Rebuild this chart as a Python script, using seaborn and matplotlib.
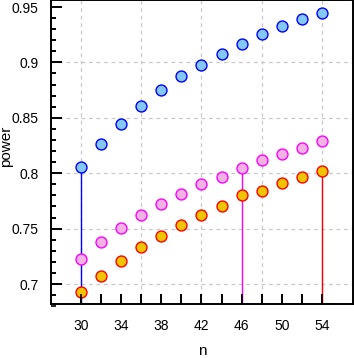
import numpy as np
import pandas as pd
import matplotlib
matplotlib.use("Agg")
import matplotlib.pyplot as plt
import seaborn as sns
from matplotlib.ticker import FixedLocator, MultipleLocator

# ------------------ DATOS ------------------
n = [30, 32, 34, 36, 38, 40, 42, 44, 46, 48, 50, 52, 54]
power_blue = [0.806, 0.826, 0.844, 0.861, 0.875, 0.888, 0.898, 0.908, 0.917, 0.926, 0.933, 0.939, 0.945]
power_pink = [0.723, 0.738, 0.751, 0.762, 0.772, 0.781, 0.790, 0.797, 0.805, 0.812, 0.817, 0.823, 0.829]
power_orange = [0.693, 0.707, 0.721, 0.733, 0.743, 0.753, 0.762, 0.770, 0.780, 0.784, 0.791, 0.797, 0.802]

# primer n con power >= 0.8 en cada serie
n_cut = [30, 46, 54]

series = [
    ("blue", power_blue, "#84C8FA", "#0000FF", "#0000FF"),
    ("pink", power_pink, "#F2B2E2", "#FF00FF", "#FF00FF"),
    ("orange", power_orange, "#F0C400", "#FF0000", "#FF0000"),
]

# ------------------ GRAFICO ------------------
sns.set_style("ticks")
plt.rcParams["font.family"] = ["Liberation Sans", "DejaVu Sans"]
plt.rcParams["xtick.color"] = "black"
plt.rcParams["ytick.color"] = "black"

fig, ax = plt.subplots(figsize=(3.54, 3.58), dpi=100)
fig.subplots_adjust(left=51 / 354, right=353 / 354, bottom=1 - 304 / 358, top=0.999)

ylo, yhi = 0.682, 0.956
ax.set_xlim(27.0, 57.1)
ax.set_ylim(ylo, yhi)

# rejilla
for gx in [30, 36, 42, 48, 54]:
    ax.axvline(gx, color="#C8C8C8", lw=0.9, ls=(0, (3, 3)), zorder=0)
for gy in [0.7, 0.75, 0.8, 0.85, 0.9]:
    ax.axhline(gy, color="#C8C8C8", lw=0.9, ls=(0, (3, 3)), zorder=0)

for (name, vals, fill, edge, lcol), xc in zip(series, n_cut):
    df = pd.DataFrame({"n": n, "power": vals})
    yv = df.loc[df["n"] == xc, "power"].iloc[0]
    ax.vlines(xc, ylo, yv, color=lcol, lw=1.0, zorder=1)
    sns.scatterplot(data=df, x="n", y="power", ax=ax, color=fill, edgecolor=edge,
                    linewidth=1.0, s=62, zorder=3, legend=False)

# ejes
ax.xaxis.set_major_locator(FixedLocator([30, 34, 38, 42, 46, 50, 54]))
ax.xaxis.set_minor_locator(FixedLocator([32, 36, 40, 44, 48, 52]))
ax.yaxis.set_major_locator(FixedLocator([0.7, 0.75, 0.8, 0.85, 0.9, 0.95]))
ax.yaxis.set_minor_locator(MultipleLocator(0.01))
ax.yaxis.set_major_formatter(matplotlib.ticker.FuncFormatter(lambda v, p: f"{v:g}"))

for sp in ax.spines.values():
    sp.set_visible(True)
    sp.set_color("black")
    sp.set_linewidth(1.4)

ax.set_xlabel("n", fontsize=11, color="black")
ax.set_ylabel("power", fontsize=11, color="black")
ax.xaxis.set_label_coords(0.5, -0.155)
ax.xaxis.label.set_va("center")
ax.yaxis.set_label_coords(-0.125, 0.52)

ax.tick_params(axis="x", which="both", direction="in", length=7.5, width=1.2,
               color="black", labelsize=10, pad=11, labelcolor="black",
               bottom=True, top=False)
ax.tick_params(axis="y", which="major", direction="in", length=8, width=1.2,
               color="black", labelsize=10, pad=9, labelcolor="black",
               left=True, right=False)
ax.tick_params(axis="y", which="minor", direction="in", length=3.5, width=1.2,
               color="black", left=True, right=False)

# marcas de los ejes dibujadas tambien como lineas (hacia dentro), desde los localizadores
xt = list(ax.xaxis.get_majorticklocs()) + list(ax.xaxis.get_minorticklocs())
ax.vlines(xt, 0, 10 / 304, transform=ax.get_xaxis_transform(), color="black",
          lw=1.2, clip_on=False, zorder=4)
ax.hlines(ax.yaxis.get_majorticklocs(), 0, 11 / 302, transform=ax.get_yaxis_transform(),
          color="black", lw=1.2, clip_on=False, zorder=4)
ax.hlines(ax.yaxis.get_minorticklocs(), 0, 4.5 / 302, transform=ax.get_yaxis_transform(),
          color="black", lw=1.2, clip_on=False, zorder=4)

fig.savefig("out.png", dpi=100)
